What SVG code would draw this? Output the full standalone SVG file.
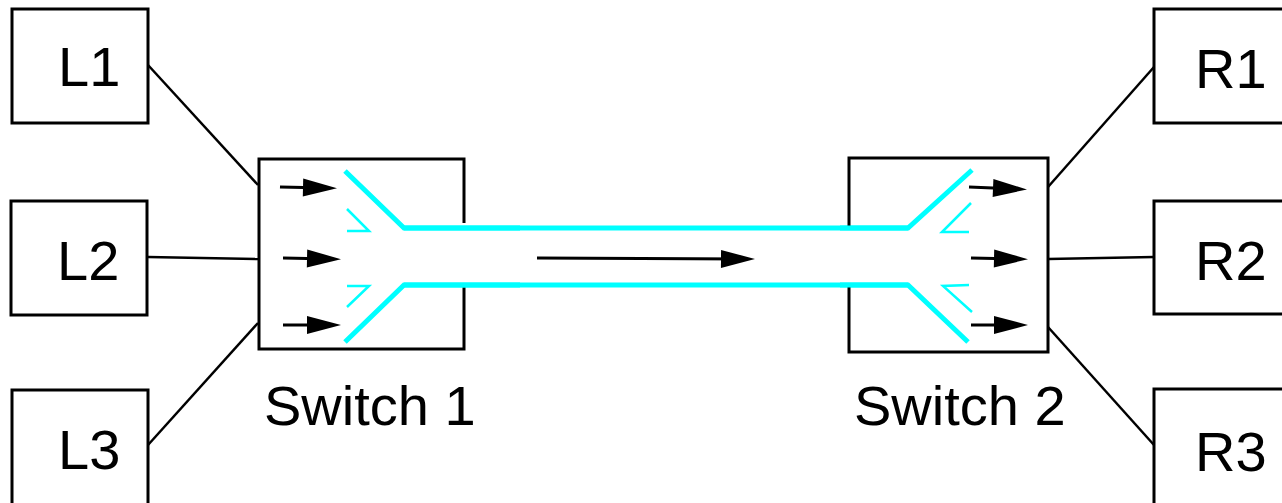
<svg xmlns="http://www.w3.org/2000/svg" width="1282" height="503" viewBox="0 0 1282 503">
<style>
.box{fill:#fff;stroke:#000;stroke-width:3}
.lbl{font-family:"Liberation Sans",Arial,sans-serif;font-size:56px;fill:#000}
.wire{stroke:#000;stroke-width:2.5;fill:none}
.edge{stroke:#000;stroke-width:3;fill:none}
.arr{stroke:#000;stroke-width:3;fill:none;marker-end:url(#ah)}
.pipe{stroke:#00ffff;stroke-width:5;fill:none}
.chev{stroke:#00ffff;stroke-width:2.5;fill:none}
</style>
<defs>
<marker id="ah" markerUnits="userSpaceOnUse" markerWidth="34" markerHeight="18" refX="24" refY="9" orient="auto" overflow="visible">
<path d="M0,0 L34,9 L0,18 Z" fill="#000"/>
</marker>
</defs>
<rect width="1282" height="503" fill="#fff"/>
<g id="connectors">
<line class="wire" x1="148" y1="65" x2="258" y2="185"/>
<line class="wire" x1="148" y1="257" x2="258" y2="259"/>
<line class="wire" x1="148" y1="445" x2="258" y2="323"/>
<line class="wire" x1="1048" y1="187" x2="1154" y2="67"/>
<line class="wire" x1="1048" y1="259" x2="1154" y2="257"/>
<line class="wire" x1="1048" y1="327" x2="1154" y2="445"/>
<line class="arr" x1="537" y1="258" x2="745" y2="259"/>
</g>
<g id="L1"><rect class="box" x="12" y="9" width="136" height="114"/><text class="lbl" x="58" y="86">L1</text></g>
<g id="L2"><rect class="box" x="11" y="201" width="136" height="114"/><text class="lbl" x="57" y="280">L2</text></g>
<g id="L3"><rect class="box" x="12" y="390" width="136" height="130"/><text class="lbl" x="58" y="469">L3</text></g>
<g id="R1"><rect class="box" x="1154" y="9" width="140" height="114"/><text class="lbl" x="1195" y="88">R1</text></g>
<g id="R2"><rect class="box" x="1154" y="201" width="140" height="113"/><text class="lbl" x="1195" y="280">R2</text></g>
<g id="R3"><rect class="box" x="1154" y="389" width="140" height="130"/><text class="lbl" x="1195" y="471">R3</text></g>
<g id="switch1">
<path class="edge" d="M464,223 L464,159 L259,159 L259,349 L464,349 L464,283"/>
<path class="pipe" d="M345,171 L404,228 L520,228"/>
<path class="pipe" d="M345,342 L404,285 L520,285"/>
<path class="chev" d="M347,209 L369,231 L347,231"/>
<path class="chev" d="M347,286 L369,286 L347,307"/>
<line class="arr" x1="280" y1="187" x2="327" y2="188"/>
<line class="arr" x1="283" y1="258" x2="331" y2="259"/>
<line class="arr" x1="283" y1="325" x2="331" y2="325"/>
<text class="lbl" x="264" y="425">Switch 1</text>
</g>
<g id="trunk">
<line class="pipe" x1="404" y1="228" x2="908" y2="228"/>
<line class="pipe" x1="404" y1="285" x2="908" y2="285"/>
</g>
<g id="switch2">
<path class="edge" d="M849,227 L849,158 L1048,158 L1048,352 L849,352 L849,285"/>
<path class="pipe" d="M840,228 L908,228 L972,170"/>
<path class="pipe" d="M840,285 L908,285 L968,342"/>
<path class="chev" d="M971,203 L942,232 L969,232"/>
<path class="chev" d="M969,285 L943,286 L972,312"/>
<line class="arr" x1="969" y1="187" x2="1017" y2="189"/>
<line class="arr" x1="971" y1="258" x2="1018" y2="259"/>
<line class="arr" x1="971" y1="325" x2="1018" y2="325"/>
<text class="lbl" x="854" y="425">Switch 2</text>
</g>
</svg>
